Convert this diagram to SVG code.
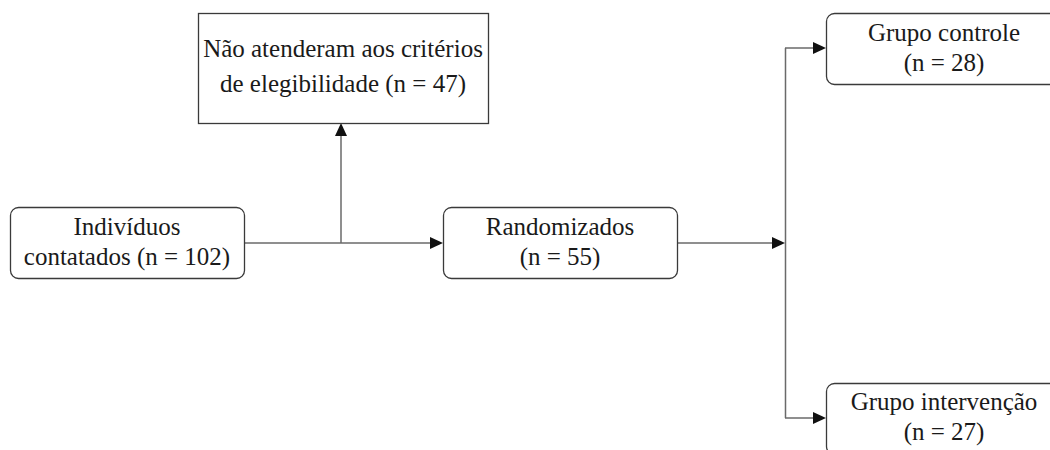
<svg xmlns="http://www.w3.org/2000/svg" width="1050" height="450" viewBox="0 0 1050 450">
<style>
.box{fill:#fff;stroke:#3a3a3a;stroke-width:1.3}
.t{font-family:"Liberation Serif","Times New Roman",serif;font-size:25px;fill:#1a1a1a;text-anchor:middle}
.c{fill:none;stroke:#6a6a6a;stroke-width:1.5}
.ah{fill:#111}
</style>
<rect width="1050" height="450" fill="#fff"/>
<g id="connectors">
<path class="c" d="M244 243H431"/>
<path class="c" d="M341 243V135"/>
<path class="c" d="M677 243H773"/>
<path class="c" d="M785.5 48V418"/>
<path class="c" d="M785 48H814"/>
<path class="c" d="M785 418H814"/>
<polygon class="ah" points="341,123 335,136 347,136"/>
<polygon class="ah" points="443,243 430,237 430,249"/>
<polygon class="ah" points="785,243 772,237 772,249"/>
<polygon class="ah" points="826,48 813,42 813,54"/>
<polygon class="ah" points="826,418 813,412 813,424"/>
</g>
<g id="n-excluded">
<rect class="box" x="198.5" y="13.5" width="290" height="110"/>
<text class="t" x="343" y="57">Não atenderam aos critérios</text>
<text class="t" x="343" y="92">de elegibilidade (n = 47)</text>
</g>
<g id="n-contacted">
<rect class="box" x="10.5" y="207.5" width="234" height="71" rx="8"/>
<text class="t" x="127" y="235">Indivíduos</text>
<text class="t" x="127" y="265">contatados (n = 102)</text>
</g>
<g id="n-randomized">
<rect class="box" x="443.5" y="207.5" width="234" height="71" rx="8"/>
<text class="t" x="560" y="235">Randomizados</text>
<text class="t" x="560" y="265">(n = 55)</text>
</g>
<g id="n-control">
<rect class="box" x="826.5" y="13.5" width="236" height="71" rx="8"/>
<text class="t" x="944" y="41">Grupo controle</text>
<text class="t" x="944" y="71">(n = 28)</text>
</g>
<g id="n-intervention">
<rect class="box" x="826.5" y="383.5" width="236" height="71" rx="8"/>
<text class="t" x="944" y="410">Grupo intervenção</text>
<text class="t" x="944" y="440">(n = 27)</text>
</g>
</svg>
